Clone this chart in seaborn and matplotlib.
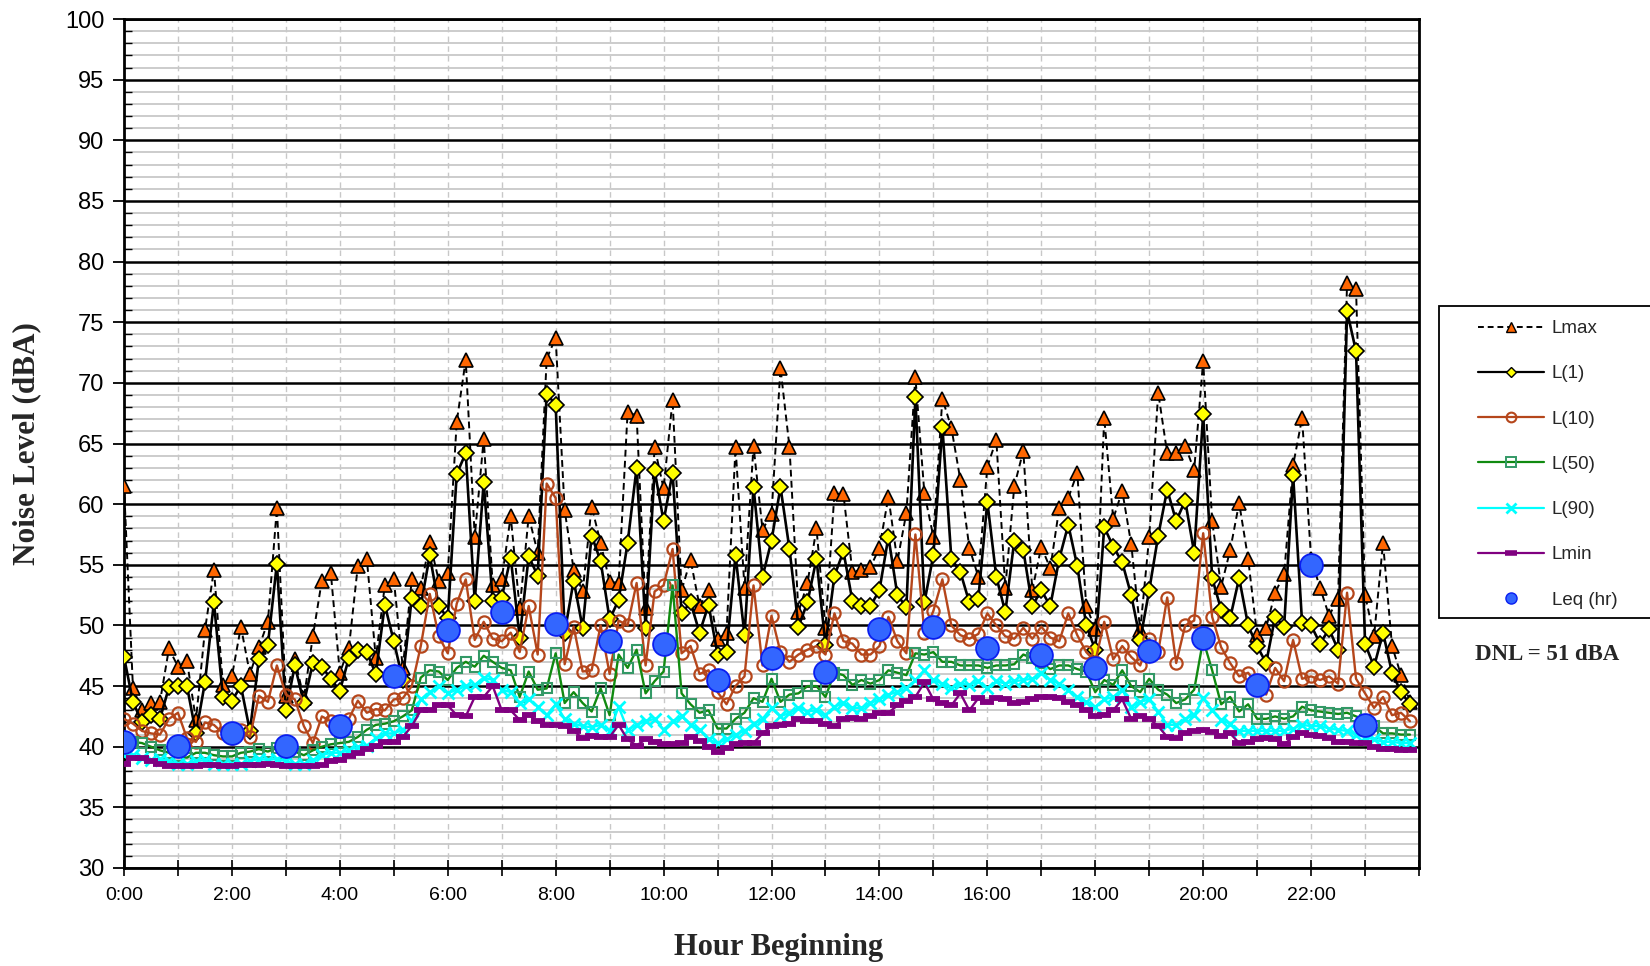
import numpy as np
import pandas as pd
import matplotlib
matplotlib.use("Agg")
import matplotlib.pyplot as plt
import seaborn as sns
from matplotlib.ticker import MultipleLocator, FixedLocator, FuncFormatter
from matplotlib import font_manager
from matplotlib.lines import Line2D
from matplotlib.patches import Rectangle

# ---------------- data ----------------
minutes = np.arange(0, 1440, 10)          # 10-minute intervals, hour beginning
leq_hours_lbl = list(range(24))           # hourly Leq

lmax = [61.5, 44.8, 43.0, 43.6, 43.7, 48.1,
        46.6, 47.1, 42.2, 49.6, 54.6, 45.1,
        45.8, 49.9, 46.0, 48.2, 50.3, 59.7,
        44.2, 47.2, 44.0, 49.1, 53.7, 54.3,
        46.1, 48.1, 54.9, 55.5, 47.3, 53.3,
        53.8, 46.5, 53.8, 53.1, 56.9, 53.7,
        54.3, 66.8, 71.9, 57.3, 65.4, 53.3,
        53.8, 59.0, 51.4, 59.0, 56.0, 72.0,
        73.7, 59.5, 54.6, 52.8, 59.8, 56.8,
        53.6, 53.5, 67.6, 67.3, 51.4, 64.7,
        61.3, 68.6, 52.9, 55.4, 51.6, 52.9,
        48.9, 49.4, 64.7, 53.1, 64.8, 57.9,
        59.2, 71.2, 64.7, 51.1, 53.5, 58.0,
        49.8, 60.9, 60.8, 54.4, 54.6, 54.8,
        56.4, 60.6, 55.3, 59.3, 70.5, 60.9,
        57.3, 68.7, 66.3, 62.0, 56.4, 54.0,
        63.1, 65.3, 53.1, 61.5, 64.4, 52.9,
        56.5, 54.7, 59.7, 60.5, 62.6, 51.6,
        49.7, 67.1, 58.8, 61.1, 56.7, 49.6,
        57.3, 69.2, 64.2, 64.2, 64.8, 62.8,
        71.8, 58.6, 53.2, 56.2, 60.1, 55.5,
        49.2, 49.8, 52.7, 54.2, 63.2, 67.1,
        55.5, 53.1, 50.8, 52.2, 78.2, 77.7,
        52.5, 49.1, 56.8, 48.3, 45.9, 43.7]

l1 = [47.4, 43.7, 42.0, 42.6, 42.3, 44.9,
      45.0, 45.0, 41.1, 45.3, 51.9, 44.1,
      43.8, 45.0, 41.3, 47.2, 48.4, 55.1,
      43.0, 46.7, 43.6, 46.9, 46.6, 45.6,
      44.6, 47.3, 48.0, 47.8, 46.0, 51.7,
      48.7, 45.5, 52.3, 51.6, 55.8, 51.6,
      50.6, 62.5, 64.2, 52.0, 61.8, 52.0,
      52.3, 55.6, 49.0, 55.7, 54.1, 69.1,
      68.2, 49.4, 53.7, 49.8, 57.4, 55.3,
      50.5, 52.1, 56.8, 63.0, 49.8, 62.8,
      58.6, 62.6, 51.0, 51.9, 49.4, 51.7,
      47.6, 47.8, 55.8, 49.2, 61.4, 54.0,
      57.0, 61.4, 56.3, 49.9, 51.9, 55.5,
      48.4, 54.1, 56.1, 52.0, 51.6, 51.6,
      52.9, 57.3, 52.5, 51.5, 68.8, 51.9,
      55.8, 66.4, 55.5, 54.4, 51.9, 52.2,
      60.2, 54.0, 51.1, 57.0, 56.2, 51.6,
      52.9, 51.6, 55.5, 58.3, 54.9, 50.0,
      48.0, 58.1, 56.5, 55.2, 52.5, 48.8,
      52.9, 57.4, 61.2, 58.6, 60.3, 56.0,
      67.4, 53.9, 51.3, 50.6, 53.9, 50.0,
      48.3, 46.9, 50.7, 49.9, 62.4, 50.2,
      50.0, 48.5, 49.7, 48.0, 75.9, 72.6,
      48.5, 46.6, 49.4, 46.1, 44.5, 43.5]

l10 = [42.3, 41.9, 41.3, 41.1, 41.0, 42.3,
       42.8, 40.7, 40.4, 42.0, 41.8, 41.1,
       40.7, 41.4, 40.8, 44.2, 43.7, 46.7,
       44.3, 43.9, 41.7, 40.3, 42.5, 42.1,
       41.6, 42.3, 43.8, 42.8, 43.1, 43.0,
       43.9, 44.0, 45.0, 48.3, 52.6, 49.1,
       47.7, 51.8, 53.8, 48.8, 50.3, 48.9,
       48.7, 49.4, 47.8, 51.6, 47.6, 61.7,
       60.5, 46.8, 49.9, 46.2, 46.3, 50.0,
       46.0, 50.4, 50.0, 53.5, 46.7, 52.8,
       53.3, 56.3, 47.7, 48.3, 46.0, 46.3,
       44.5, 43.5, 45.0, 45.8, 53.3, 46.7,
       50.8, 47.8, 47.0, 47.6, 48.0, 48.3,
       47.6, 51.0, 48.7, 48.5, 47.6, 47.6,
       48.3, 50.7, 48.7, 47.7, 57.5, 49.4,
       51.2, 53.8, 50.0, 49.2, 48.9, 49.3,
       51.0, 50.0, 49.1, 48.9, 49.8, 48.9,
       49.9, 49.0, 48.7, 51.0, 49.2, 47.8,
       47.0, 50.3, 47.2, 48.3, 47.4, 46.7,
       48.9, 47.8, 52.3, 46.9, 50.0, 50.4,
       57.6, 50.7, 48.2, 46.9, 45.8, 46.1,
       45.1, 44.3, 46.5, 45.4, 48.8, 45.6,
       45.8, 45.5, 45.8, 45.2, 52.7, 45.6,
       44.4, 43.2, 44.1, 42.6, 42.8, 42.1]

l50 = [40.7, 40.4, 40.3, 40.0, 39.7, 39.5,
       39.2, 39.1, 39.5, 39.5, 39.3, 39.2,
       39.2, 39.5, 39.6, 39.8, 39.6, 39.9,
       39.5, 39.6, 39.3, 39.7, 40.0, 40.2,
       40.3, 40.4, 40.8, 41.4, 41.8, 41.9,
       42.1, 42.5, 43.0, 45.7, 46.3, 46.2,
       45.5, 46.5, 47.0, 46.6, 47.5, 47.0,
       46.5, 46.3, 44.1, 46.2, 44.7, 44.8,
       47.7, 43.6, 44.5, 43.6, 42.9, 44.8,
       42.6, 47.6, 46.5, 48.0, 44.4, 45.4,
       46.2, 53.3, 44.4, 43.5, 42.8, 43.0,
       41.5, 41.5, 42.3, 42.8, 44.0, 43.7,
       45.6, 43.7, 44.3, 44.4, 45.0, 45.0,
       44.1, 46.1, 45.9, 45.1, 45.5, 45.2,
       45.5, 46.3, 46.1, 45.9, 47.7, 47.6,
       47.8, 47.0, 47.0, 46.7, 46.7, 46.7,
       46.5, 46.7, 46.7, 46.8, 47.6, 47.3,
       46.9, 46.4, 46.7, 46.7, 46.4, 46.2,
       44.5, 45.5, 45.1, 46.3, 45.0, 44.5,
       45.6, 44.7, 44.3, 43.6, 43.9, 44.7,
       48.8, 46.3, 43.5, 44.1, 42.9, 43.5,
       42.3, 42.3, 42.5, 42.3, 42.5, 43.3,
       43.0, 42.9, 42.8, 42.7, 42.8, 42.5,
       42.2, 41.7, 41.1, 41.1, 41.0, 41.0]

l90 = [39.3, 39.3, 39.1, 38.9, 39.0, 38.8,
       38.6, 38.6, 38.8, 38.9, 38.6, 38.6,
       38.6, 38.6, 38.8, 39.0, 38.9, 39.0,
       38.8, 38.6, 38.6, 38.9, 39.3, 39.5,
       39.5, 39.7, 40.0, 40.1, 40.7, 41.1,
       41.1, 41.4, 42.1, 43.9, 44.5, 45.0,
       44.4, 44.7, 45.0, 45.1, 45.7, 45.5,
       44.7, 44.5, 43.6, 43.9, 43.3, 42.6,
       43.5, 42.3, 41.9, 41.7, 41.6, 41.8,
       41.3, 43.3, 41.4, 41.8, 42.1, 42.3,
       41.4, 42.1, 42.5, 41.8, 41.4, 40.6,
       40.3, 40.6, 41.0, 41.3, 41.9, 42.3,
       43.2, 42.5, 42.8, 43.2, 42.9, 43.0,
       42.6, 43.3, 43.6, 43.2, 43.2, 43.6,
       43.9, 44.3, 44.5, 44.8, 45.5, 46.3,
       45.5, 45.2, 44.8, 45.2, 45.1, 45.4,
       44.8, 45.4, 45.2, 45.4, 45.5, 45.6,
       46.1, 45.5, 45.2, 44.7, 44.1, 43.7,
       43.3, 43.9, 44.1, 44.7, 43.3, 43.7,
       43.9, 42.9, 41.8, 41.8, 42.3, 42.6,
       44.0, 43.0, 42.2, 41.9, 41.3, 41.3,
       41.3, 41.3, 41.3, 41.3, 41.5, 41.8,
       41.7, 41.7, 41.5, 41.4, 41.3, 41.0,
       40.8, 40.6, 40.4, 40.4, 40.3, 40.3]

lmin = [38.6, 39.1, 39.1, 38.8, 38.6, 38.4,
        38.4, 38.4, 38.4, 38.5, 38.5, 38.4,
        38.4, 38.5, 38.5, 38.5, 38.6, 38.5,
        38.4, 38.4, 38.4, 38.4, 38.5, 38.8,
        38.9, 39.2, 39.5, 39.8, 40.1, 40.4,
        40.4, 40.8, 41.7, 43.0, 43.0, 43.4,
        43.4, 42.6, 42.5, 44.1, 44.1, 45.0,
        43.0, 43.0, 42.2, 42.6, 42.1, 41.8,
        41.8, 41.7, 41.3, 40.7, 40.9, 40.8,
        40.8, 41.8, 40.6, 40.1, 40.6, 40.4,
        40.2, 40.2, 40.3, 40.8, 40.5, 40.0,
        39.6, 39.9, 40.2, 40.3, 40.3, 41.1,
        41.7, 41.8, 41.9, 42.3, 42.1, 42.1,
        41.9, 41.7, 42.3, 42.4, 42.3, 42.5,
        42.8, 42.8, 43.4, 43.8, 44.1, 45.3,
        43.9, 43.6, 43.4, 44.4, 43.0, 44.0,
        43.7, 44.0, 43.9, 43.6, 43.7, 43.9,
        44.1, 44.1, 44.0, 43.7, 43.4, 43.0,
        42.5, 42.6, 43.0, 43.9, 42.3, 42.5,
        42.3, 41.7, 40.8, 40.7, 41.1, 41.3,
        41.4, 41.2, 40.9, 41.1, 40.3, 40.4,
        40.6, 40.7, 40.6, 40.2, 40.8, 41.1,
        41.0, 40.9, 40.7, 40.4, 40.4, 40.3,
        40.3, 40.0, 39.8, 39.8, 39.7, 39.7]

leq = [40.4, 40.1, 41.1, 40.1, 41.7, 45.8, 49.6, 51.1, 50.1, 48.7, 48.5, 45.5,
       47.3, 46.2, 49.7, 49.9, 48.1, 47.6, 46.5, 47.9, 49.0, 45.1, 55.0, 41.8]

x_tick_labels = ["0:00", "2:00", "4:00", "6:00", "8:00", "10:00",
                 "12:00", "14:00", "16:00", "18:00", "20:00", "22:00"]
dnl_text = "DNL = 51 dBA"

# ---------------- figure ----------------
sns.set_theme(style="white")
plt.rcParams["font.family"] = ["Liberation Sans", "DejaVu Sans"]

fonts = {f.name for f in font_manager.fontManager.ttflist}
narrow = "Liberation Sans Narrow" in fonts

W, H = 1650, 966
fig = plt.figure(figsize=(W / 100, H / 100), dpi=100)
fig.patch.set_facecolor("white")
ax = fig.add_axes([124 / W, 1 - 868 / H, (1419 - 124) / W, (868 - 19) / H])
ax.set_facecolor("white")

hours = minutes / 60.0
df = pd.DataFrame({"hour": hours, "Lmax": lmax, "L(1)": l1, "L(10)": l10,
                   "L(50)": l50, "L(90)": l90, "Lmin": lmin})
dleq = pd.DataFrame({"hour": leq_hours_lbl, "Leq": leq})

common = dict(ax=ax, errorbar=None, sort=False)
sns.lineplot(data=df, x="hour", y="Lmax", color="black", lw=1.4,
             linestyle=(0, (3.5, 2.2)), marker="^", markersize=10.5,
             markerfacecolor="#FF6600", markeredgecolor="black",
             markeredgewidth=1.2, zorder=3, **common)
sns.lineplot(data=df, x="hour", y="L(1)", color="black", lw=1.9,
             marker="D", markersize=7.8, markerfacecolor="#FFFF00",
             markeredgecolor="black", markeredgewidth=1.2, zorder=4, **common)
sns.lineplot(data=df, x="hour", y="L(10)", color="#B5461B", lw=1.7,
             marker="o", markersize=8.8, markerfacecolor="none",
             markeredgecolor="#B5461B", markeredgewidth=1.6, zorder=5, **common)
sns.lineplot(data=df, x="hour", y="L(50)", color="#108A10", lw=1.7,
             marker="s", markersize=7.6, markerfacecolor="none",
             markeredgecolor="#339966", markeredgewidth=1.5, zorder=6, **common)
sns.lineplot(data=df, x="hour", y="L(90)", color="#00FFFF", lw=1.7,
             marker="x", markersize=8.2, markeredgecolor="#00FFFF",
             markeredgewidth=2.0, zorder=7, **common)
sns.lineplot(data=df, x="hour", y="Lmin", color="#800080", lw=1.7,
             marker="_", markersize=9.5, markeredgecolor="#800080",
             markeredgewidth=4.2, zorder=8, **common)
sns.scatterplot(data=dleq, x="hour", y="Leq", ax=ax, s=270,
                color="#3366FF", edgecolor="#0A1EF0", linewidth=1.3,
                zorder=10, legend=False)

# axes limits / ticks
ax.set_xlim(0, 24)
ax.set_ylim(30, 100)
ax.yaxis.set_major_locator(MultipleLocator(5))
ax.yaxis.set_minor_locator(MultipleLocator(1))
ax.xaxis.set_major_locator(FixedLocator(list(range(0, 25))))
ax.xaxis.set_major_formatter(FuncFormatter(
    lambda v, p: x_tick_labels[int(round(v)) // 2]
    if (int(round(v)) % 2 == 0 and int(round(v)) < 24) else ""))

ax.grid(which="minor", axis="y", color="#C8C8C8", lw=1.3)
ax.grid(which="major", axis="y", color="black", lw=1.8)
ax.grid(which="major", axis="x", color="#C8C8C8", lw=1.0, linestyle=(0, (4, 3)))
ax.set_axisbelow(True)

for s in ax.spines.values():
    s.set_color("black")
    s.set_linewidth(2.0)
    s.set_visible(True)

ax.tick_params(axis="y", which="major", direction="out", length=8, width=1.3,
               colors="black", labelsize=17, pad=6, left=True)
ax.tick_params(axis="y", which="minor", direction="in", length=6, width=1.0,
               colors="black", left=True)
ax.tick_params(axis="x", which="major", direction="inout", length=12, width=1.2,
               colors="black", pad=8, bottom=True)
for lab in ax.get_xticklabels():
    if narrow:
        lab.set_family(["Liberation Sans Narrow", "DejaVu Sans"])
        lab.set_fontsize(16.5)
    else:
        lab.set_fontsize(14)
ax.set_xlabel("")
ax.set_ylabel("")

# axis titles
fig.text(779 / W, 1 - 947 / H, "Hour Beginning", ha="center", va="center",
         family=["Liberation Serif", "DejaVu Serif"], weight="bold", fontsize=22)
fig.text(27 / W, 1 - 444 / H, "Noise Level (dBA)", ha="center", va="center",
         rotation=90, family=["Liberation Serif", "DejaVu Serif"],
         weight="bold", fontsize=22.5)

# legend box (extends past right edge like the reference)
fig.patches.append(Rectangle((1439 / W, 1 - 618 / H), (1700 - 1439) / W,
                             (618 - 306) / H, transform=fig.transFigure,
                             facecolor="white", edgecolor="black", lw=1.3,
                             zorder=1))
handles = [
    Line2D([], [], color="black", lw=1.4, linestyle=(0, (3, 2)), marker="^",
           markersize=7, markerfacecolor="#FF6600", markeredgecolor="black"),
    Line2D([], [], color="black", lw=1.6, marker="D", markersize=5.5,
           markerfacecolor="#FFFF00", markeredgecolor="black"),
    Line2D([], [], color="#B5461B", lw=1.6, marker="o", markersize=7,
           markerfacecolor="none", markeredgecolor="#B5461B", markeredgewidth=1.5),
    Line2D([], [], color="#108A10", lw=1.6, marker="s", markersize=6.5,
           markerfacecolor="none", markeredgecolor="#339966", markeredgewidth=1.4),
    Line2D([], [], color="#00FFFF", lw=1.6, marker="x", markersize=7,
           markeredgecolor="#00FFFF", markeredgewidth=2),
    Line2D([], [], color="#800080", lw=1.6, marker="_", markersize=8,
           markeredgecolor="#800080", markeredgewidth=4),
    Line2D([], [], color="none", lw=0, marker="o", markersize=8,
           markerfacecolor="#3366FF", markeredgecolor="#0A1EF0"),
]
labels = ["Lmax", "L(1)", "L(10)", "L(50)", "L(90)", "Lmin", "Leq (hr)"]
leg = fig.legend(handles, labels, loc="upper left",
                 bbox_to_anchor=(1478 / W, 1 - 320 / H), frameon=False,
                 fontsize=13.5, handlelength=3.5, handletextpad=0.42,
                 labelspacing=1.50, borderpad=0.0, borderaxespad=0.0)
leg.set_zorder(5)

fig.text(1547 / W, 1 - 655 / H, dnl_text, ha="center", va="center",
         family=["Liberation Serif", "DejaVu Serif"], weight="bold", fontsize=16.5)

fig.savefig("out.png", dpi=100, facecolor="white")
